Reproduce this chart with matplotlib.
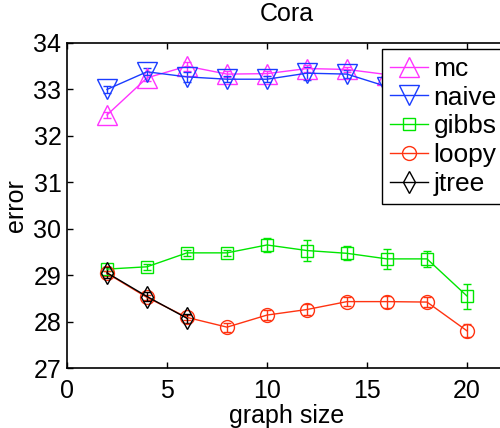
import matplotlib
matplotlib.use("Agg")
import matplotlib.pyplot as plt

plt.rcParams['font.family'] = ['Liberation Sans', 'DejaVu Sans']

sizes = [2, 4, 6, 8, 10, 12, 14, 16, 18, 20]

mc = [32.45, 33.25, 33.5, 33.33, 33.34, 33.45, 33.43, 33.32, 33.3, 33.25]
mc_err = [0.06, 0.06, 0.1, 0.06, 0.06, 0.08, 0.06, 0.06, 0.06, 0.06]
naive = [33.0, 33.38, 33.27, 33.22, 33.22, 33.35, 33.33, 33.06, 33.1, 33.0]
naive_err = [0.08, 0.08, 0.1, 0.06, 0.06, 0.14, 0.08, 0.06, 0.06, 0.06]
gibbs = [29.13, 29.18, 29.48, 29.48, 29.65, 29.53, 29.47, 29.35, 29.35, 28.55]
gibbs_err = [0.05, 0.07, 0.06, 0.06, 0.15, 0.23, 0.15, 0.22, 0.18, 0.27]
loopy = [29.04, 28.52, 28.09, 27.88, 28.14, 28.26, 28.43, 28.43, 28.42, 27.80]
loopy_err = [0.05, 0.06, 0.06, 0.1, 0.1, 0.12, 0.1, 0.13, 0.1, 0.14]
jtree_sizes = [2, 4, 6]
jtree = [29.05, 28.54, 28.07]
jtree_err = [0.12, 0.1, 0.1]

fig = plt.figure(figsize=(5, 4.28), dpi=100)
ax = fig.add_axes([67 / 500, 60 / 428, 440 / 500, 325 / 428])

series = [
    (sizes, mc, mc_err, 'mc', '#ff33ff', '^', 14),
    (sizes, naive, naive_err, 'naive', '#1a3cff', 'v', 14),
    (sizes, gibbs, gibbs_err, 'gibbs', '#00e600', 's', 8.5),
    (sizes, loopy, loopy_err, 'loopy', '#ff3311', 'o', 10),
    (jtree_sizes, jtree, jtree_err, 'jtree', 'black', 'd', 11),
]
handles = []
for xs, ys, es, name, col, mk, ms in series:
    c = ax.errorbar(xs, ys, yerr=es, color=col, marker=mk, markersize=ms,
                    markerfacecolor='none', markeredgecolor=col, markeredgewidth=1,
                    linewidth=1, elinewidth=1, capsize=3, label=name)
    handles.append(c.lines[0])

ax.set_xlim(0, 22)
ax.set_ylim(27, 34)
ax.set_xticks([0, 5, 10, 15, 20])
ax.set_yticks([27, 28, 29, 30, 31, 32, 33, 34])
ax.tick_params(direction='in', top=True, right=True, length=4, labelsize=18,
               width=1)
ax.tick_params(axis='x', pad=8)
ax.tick_params(axis='y', pad=4)
for s in ax.spines.values():
    s.set_linewidth(1.2)

ax.set_title('Cora', fontsize=18, pad=16)
ax.set_xlabel('graph size', fontsize=18, labelpad=1)
ax.set_ylabel('error', fontsize=18, labelpad=4)

leg = ax.legend(handles, [s[3] for s in series],
                loc='upper left', bbox_to_anchor=(315 / 440, 1 - 6 / 325),
                fontsize=19, fancybox=False, edgecolor='black', framealpha=1,
                handlelength=1.45, handletextpad=0.2, labelspacing=0.18,
                borderpad=0.3, borderaxespad=0)
leg.get_frame().set_linewidth(1)

fig.savefig('out.png', dpi=100)
